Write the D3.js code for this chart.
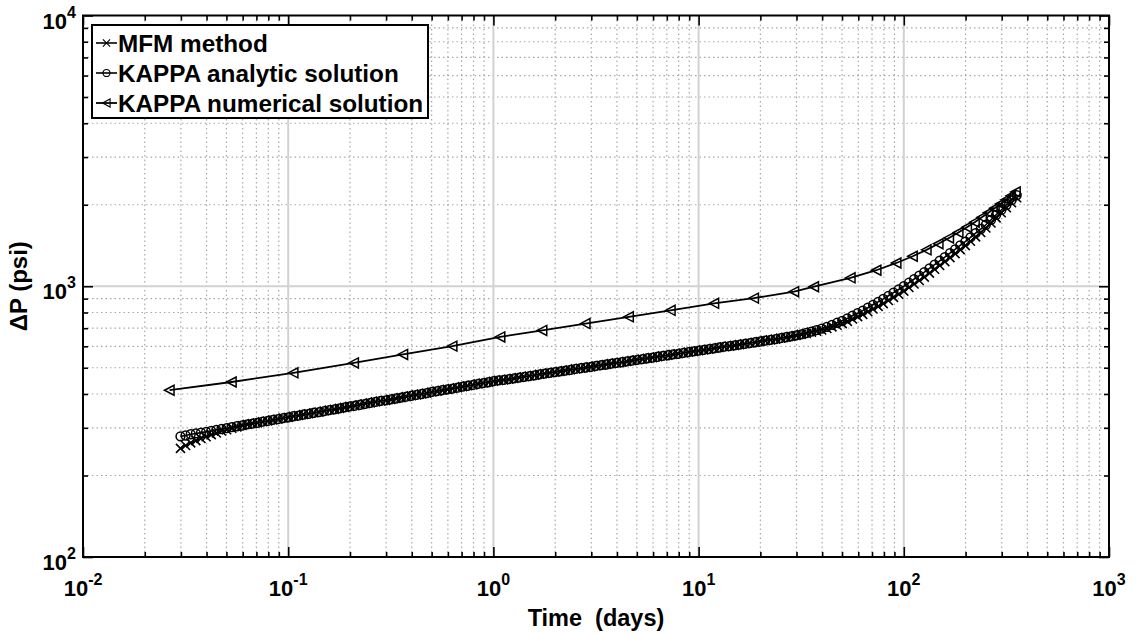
<!DOCTYPE html>
<html>
<head>
<meta charset="utf-8">
<script src="https://cdn.jsdelivr.net/npm/d3@7"></script>
<style>
  body { margin: 0; background: #fff; }
  svg { display: block; }
  text { font-family: "Liberation Sans", Arial, Helvetica, sans-serif; font-weight: bold; fill: #000; }
</style>
</head>
<body>
<svg id="chart" width="1137" height="634"></svg>
<script>
// ---- data ----------------------------------------------------------------
// Time points (days) shared by the MFM and analytic curves
const timeDense = [
  0.02985, 0.03162, 0.03350, 0.03548, 0.03758, 0.03981, 0.04217, 0.04467, 0.04732, 0.05012,
  0.05309, 0.05623, 0.05957, 0.06310, 0.06683, 0.07079, 0.07499, 0.07943, 0.08414, 0.08913, 0.09441,
  0.1000, 0.1059, 0.1122, 0.1189, 0.1259, 0.1334, 0.1413, 0.1496, 0.1585, 0.1679,
  0.1778, 0.1884, 0.1995, 0.2113, 0.2239, 0.2371, 0.2512, 0.2661, 0.2818, 0.2985,
  0.3162, 0.3350, 0.3548, 0.3758, 0.3981, 0.4217, 0.4467, 0.4732, 0.5012, 0.5309,
  0.5623, 0.5957, 0.6310, 0.6683, 0.7079, 0.7499, 0.7943, 0.8414, 0.8913, 0.9441,
  1.000, 1.059, 1.122, 1.189, 1.259, 1.334, 1.413, 1.496, 1.585, 1.679,
  1.778, 1.884, 1.995, 2.113, 2.239, 2.371, 2.512, 2.661, 2.818, 2.985,
  3.162, 3.350, 3.548, 3.758, 3.981, 4.217, 4.467, 4.732, 5.012, 5.309,
  5.623, 5.957, 6.310, 6.683, 7.079, 7.499, 7.943, 8.414, 8.913, 9.441,
  10.00, 10.59, 11.22, 11.89, 12.59, 13.34, 14.13, 14.96, 15.85, 16.79,
  17.78, 18.84, 19.95, 21.13, 22.39, 23.71, 25.12, 26.61, 28.18, 29.85,
  31.62, 33.50, 35.48, 37.58, 39.81, 42.17, 44.67, 47.32, 50.12, 53.09,
  56.23, 59.57, 63.10, 66.83, 70.79, 74.99, 79.43, 84.14, 89.13, 94.41,
  100.0, 105.9, 112.2, 118.9, 125.9, 133.4, 141.3, 149.6, 158.5, 167.9,
  177.8, 188.4, 199.5, 211.3, 223.9, 237.1, 251.2, 266.1, 281.8, 298.5,
  316.2, 335.0, 354.8
];

// KAPPA analytic solution, pressure drop (psi)
const dpAnalytic = [
  279, 281, 284, 286, 288, 290, 292, 295, 297, 299,
  302, 304, 306, 309, 311, 313, 316, 318, 321, 323, 326,
  328, 331, 333, 336, 338, 341, 343, 346, 349, 351,
  354, 357, 360, 362, 365, 368, 371, 374, 377, 379,
  382, 385, 388, 391, 394, 397, 400, 403, 407, 410,
  413, 416, 419, 422, 426, 429, 432, 436, 439, 442,
  446, 449, 451, 454, 457, 460, 463, 466, 469, 473,
  476, 479, 482, 485, 488, 491, 495, 498, 501, 504,
  508, 511, 514, 518, 521, 524, 528, 531, 535, 538,
  542, 545, 549, 553, 556, 560, 563, 567, 571, 575,
  578, 582, 586, 590, 594, 598, 601, 605, 609, 613,
  617, 621, 625, 630, 634, 638, 643, 648, 653, 658,
  664, 672, 680, 688, 697, 708, 720, 733, 745, 761,
  778, 795, 813, 833, 854, 876, 898, 922, 947, 973,
  1000, 1030, 1062, 1094, 1127, 1164, 1202, 1242, 1282, 1325,
  1369, 1415, 1462, 1515, 1570, 1627, 1687, 1759, 1835, 1913,
  1995, 2080, 2168
];

// MFM method, pressure drop (psi)
const dpMFM = [
  252, 258, 264, 269, 274, 278, 283, 287, 292, 295,
  299, 302, 306, 309, 311, 313, 316, 318, 321, 323, 326,
  328, 331, 333, 336, 338, 341, 343, 346, 349, 351,
  354, 357, 360, 362, 365, 368, 371, 374, 377, 379,
  382, 385, 388, 391, 394, 397, 400, 403, 407, 410,
  413, 416, 419, 422, 426, 429, 432, 436, 439, 442,
  446, 449, 451, 454, 457, 460, 463, 466, 469, 473,
  476, 479, 482, 485, 488, 491, 495, 498, 501, 504,
  508, 511, 514, 518, 521, 524, 528, 531, 535, 538,
  542, 545, 549, 553, 556, 560, 563, 567, 571, 575,
  578, 582, 586, 590, 594, 598, 601, 605, 609, 613,
  617, 621, 625, 630, 634, 638, 643, 648, 653, 658,
  664, 670, 677, 683, 689, 698, 708, 718, 728, 742,
  757, 772, 787, 805, 824, 843, 863, 886, 910, 934,
  959, 989, 1019, 1050, 1081, 1118, 1155, 1193, 1233, 1276,
  1320, 1365, 1413, 1466, 1522, 1580, 1641, 1713, 1789, 1868,
  1950, 2035, 2123
];

// KAPPA numerical solution
const timeNumerical = [
  0.0264, 0.053, 0.106, 0.209, 0.363, 0.631, 1.08, 1.73, 2.81, 4.57,
  7.3, 11.9, 18.6, 29.2, 36.5, 55, 73.5, 92, 110.5, 129,
  147.5, 166, 184.5, 203, 221.5, 240, 258.5, 277, 295.5, 314,
  332.5, 351
];
const dpNumerical = [
  413, 443, 479, 521, 560, 601, 650, 687, 728, 771,
  815, 865, 904, 955, 996, 1074, 1146, 1219, 1291, 1363,
  1435, 1508, 1580, 1652, 1724, 1797, 1869, 1941, 2013, 2085,
  2157, 2229
];

const seriesNames = ["MFM method", "KAPPA analytic solution", "KAPPA numerical solution"];
const xTickExponents = [-2, -1, 0, 1, 2, 3];
const yTickExponents = [2, 3, 4];
const xAxisTitle = "Time  (days)";
const yAxisTitle = "\u0394P (psi)";

// ---- layout --------------------------------------------------------------
const box = { left: 83, top: 15.5, right: 1109, bottom: 557 };
const svg = d3.select("#chart");

const x = d3.scaleLog().domain([1e-2, 1e3]).range([box.left, box.right]);
const y = d3.scaleLog().domain([1e2, 1e4]).range([box.bottom, box.top]);

const xMajor = xTickExponents.map(e => Math.pow(10, e));
const yMajor = yTickExponents.map(e => Math.pow(10, e));
const minorOf = majors => {
  const out = [];
  majors.slice(0, -1).forEach(m => { for (let k = 2; k <= 9; k++) out.push(m * k); });
  return out;
};
const xMinor = minorOf(xMajor);
const yMinor = minorOf(yMajor);

// ---- grid ----------------------------------------------------------------
const grid = svg.append("g");
grid.selectAll(".xminor").data(xMinor).join("line")
  .attr("x1", d => x(d)).attr("x2", d => x(d))
  .attr("y1", box.top).attr("y2", box.bottom)
  .attr("stroke", "#a8a8a8").attr("stroke-width", 1.2).attr("stroke-dasharray", "1.5 3");
grid.selectAll(".yminor").data(yMinor).join("line")
  .attr("y1", d => y(d)).attr("y2", d => y(d))
  .attr("x1", box.left).attr("x2", box.right)
  .attr("stroke", "#a8a8a8").attr("stroke-width", 1.2).attr("stroke-dasharray", "1.5 3");
grid.selectAll(".xmajor").data(xMajor.slice(1, -1)).join("line")
  .attr("x1", d => x(d)).attr("x2", d => x(d))
  .attr("y1", box.top).attr("y2", box.bottom)
  .attr("stroke", "#d2d2d2").attr("stroke-width", 2);
grid.selectAll(".ymajor").data(yMajor.slice(1, -1)).join("line")
  .attr("y1", d => y(d)).attr("y2", d => y(d))
  .attr("x1", box.left).attr("x2", box.right)
  .attr("stroke", "#d2d2d2").attr("stroke-width", 2);

// ---- data lines and markers ---------------------------------------------
const line = d3.line().x(d => x(d[0])).y(d => y(d[1]));
const zip = (t, v) => t.map((ti, i) => [ti, v[i]]);

const markerPath = {
  cross: "M-4.5,-4.5L4.5,4.5M-4.5,4.5L4.5,-4.5",
  circle: "M4.4,0A4.4,4.4 0 1,1 -4.4,0A4.4,4.4 0 1,1 4.4,0Z",
  triLeft: "M-5,0L4.5,-5L4.5,5Z"
};

const series = [
  { name: seriesNames[0], pts: zip(timeDense, dpMFM), marker: "cross", lw: 1.6, mw: 1.6 },
  { name: seriesNames[1], pts: zip(timeDense, dpAnalytic), marker: "circle", lw: 1.6, mw: 1.5 },
  { name: seriesNames[2], pts: zip(timeNumerical, dpNumerical), marker: "triLeft", lw: 1.8, mw: 1.5 }
];

const plotArea = svg.append("g");
series.forEach(s => {
  const g = plotArea.append("g");
  g.append("path").attr("d", line(s.pts)).attr("fill", "none")
    .attr("stroke", "#000").attr("stroke-width", s.lw);
  g.selectAll("path.mk").data(s.pts).join("path").attr("class", "mk")
    .attr("transform", d => `translate(${x(d[0])},${y(d[1])})`)
    .attr("d", markerPath[s.marker])
    .attr("fill", "none").attr("stroke", "#000").attr("stroke-width", s.mw);
});

// ---- axes (ticks point inward on all four sides) -------------------------
const styleAxis = g => {
  g.select(".domain").remove();
  g.selectAll(".tick line").attr("stroke", "#000").attr("stroke-width", 1.6);
  g.selectAll(".tick text").remove();
};
const addAxis = (gen, tx, ty) => svg.append("g").attr("transform", `translate(${tx},${ty})`).call(gen).call(styleAxis);

[[xMajor, 10], [xMinor, 5]].forEach(([vals, len]) => {
  addAxis(d3.axisBottom(x).tickValues(vals).tickSizeInner(-len).tickSizeOuter(0), 0, box.bottom);
  addAxis(d3.axisTop(x).tickValues(vals).tickSizeInner(-len).tickSizeOuter(0), 0, box.top);
});
[[yMajor, 10], [yMinor, 5]].forEach(([vals, len]) => {
  addAxis(d3.axisLeft(y).tickValues(vals).tickSizeInner(-len).tickSizeOuter(0), box.left, 0);
  addAxis(d3.axisRight(y).tickValues(vals).tickSizeInner(-len).tickSizeOuter(0), box.right, 0);
});

svg.append("rect")
  .attr("x", box.left).attr("y", box.top)
  .attr("width", box.right - box.left).attr("height", box.bottom - box.top)
  .attr("fill", "none").attr("stroke", "#000").attr("stroke-width", 2);

// ---- tick labels with superscript exponents ------------------------------
const powerLabel = (sel, e) => {
  sel.append("tspan").attr("font-size", 22).text("10");
  sel.append("tspan").attr("font-size", 16).attr("dy", -11).text(String(e));
};
xTickExponents.forEach(e => {
  const t = svg.append("text").attr("x", x(Math.pow(10, e))).attr("y", 596)
    .attr("text-anchor", "middle");
  powerLabel(t, e);
});
yTickExponents.forEach(e => {
  const t = svg.append("text").attr("x", 76).attr("y", y(Math.pow(10, e)) + 13)
    .attr("text-anchor", "end");
  powerLabel(t, e);
});

// ---- axis titles ---------------------------------------------------------
svg.append("text").attr("x", (box.left + box.right) / 2).attr("y", 626)
  .attr("text-anchor", "middle").attr("font-size", 23.5)
  .style("white-space", "pre").text(xAxisTitle);
svg.append("text").attr("transform", `translate(27,${(box.top + box.bottom) / 2}) rotate(-90)`)
  .attr("text-anchor", "middle").attr("font-size", 24).text(yAxisTitle);

// ---- legend --------------------------------------------------------------
const legend = svg.append("g");
legend.append("rect").attr("x", 92).attr("y", 25).attr("width", 336).attr("height", 93)
  .attr("fill", "#fff").attr("stroke", "#000").attr("stroke-width", 2);
series.forEach((s, i) => {
  const cy = 43 + i * 30;
  legend.append("line").attr("x1", 96).attr("x2", 117).attr("y1", cy).attr("y2", cy)
    .attr("stroke", "#000").attr("stroke-width", s.lw);
  legend.append("path").attr("transform", `translate(106.5,${cy}) scale(0.8)`).attr("d", markerPath[s.marker])
    .attr("fill", "none").attr("stroke", "#000").attr("stroke-width", 1.4);
  legend.append("text").attr("x", 118).attr("y", cy + 8.5).attr("font-size", 24.3).text(s.name);
});
</script>
</body>
</html>
